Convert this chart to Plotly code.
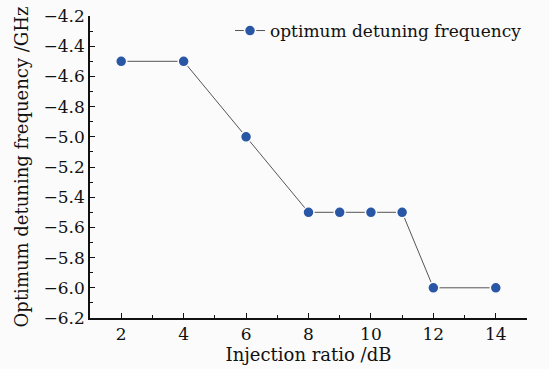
import plotly.graph_objects as go

injection_ratio = [2, 4, 6, 8, 9, 10, 11, 12, 14]
detuning = [-4.5, -4.5, -5.0, -5.5, -5.5, -5.5, -5.5, -6.0, -6.0]
series_name = "optimum detuning frequency"

font_family = "DejaVu Serif"

fig = go.Figure()
fig.add_trace(go.Scatter(
    x=injection_ratio, y=detuning, mode="lines+markers", name=series_name,
    line=dict(color="#555555", width=1),
    marker=dict(color="#2a56a6", size=11, line=dict(color="#fbfbfb", width=1.5)),
))

fig.update_layout(
    width=549, height=369,
    margin=dict(l=90, r=22, t=16, b=51),
    paper_bgcolor="#fbfbfb", plot_bgcolor="#fbfbfb",
    font=dict(family=font_family, size=17, color="#111111"),
    showlegend=True,
    legend=dict(x=1.0, y=1.01, xanchor="right", yanchor="top",
                bgcolor="rgba(0,0,0,0)", font=dict(size=17), itemwidth=30),
    xaxis=dict(
        range=[1, 15], tickvals=[2, 4, 6, 8, 10, 12, 14], automargin=False,
        showgrid=False, zeroline=False, showline=True, linecolor="#111111", linewidth=1.5,
        ticks="inside", ticklen=5, tickcolor="#111111",
        minor=dict(tickvals=[1, 3, 5, 7, 9, 11, 13, 15], ticks="inside", ticklen=3, tickcolor="#111111"),
        title=dict(text="Injection ratio /dB", standoff=1, font=dict(size=18)),
    ),
    yaxis=dict(
        range=[-6.2, -4.2], tickvals=[-6.2, -6.0, -5.8, -5.6, -5.4, -5.2, -5.0, -4.8, -4.6, -4.4, -4.2],
        ticktext=["−6.2", "−6.0", "−5.8", "−5.6", "−5.4", "−5.2", "−5.0", "−4.8", "−4.6", "−4.4", "−4.2"],
        automargin=False,
        showgrid=False, zeroline=False, showline=True, linecolor="#111111", linewidth=1.5,
        ticks="inside", ticklen=5, tickcolor="#111111",
        minor=dict(tickvals=[-6.1, -5.9, -5.7, -5.5, -5.3, -5.1, -4.9, -4.7, -4.5, -4.3], ticks="inside", ticklen=3, tickcolor="#111111"),
        title=dict(text="Optimum detuning frequency /GHz", standoff=10, font=dict(size=18)),
    ),
)

fig.write_html("out.html")
